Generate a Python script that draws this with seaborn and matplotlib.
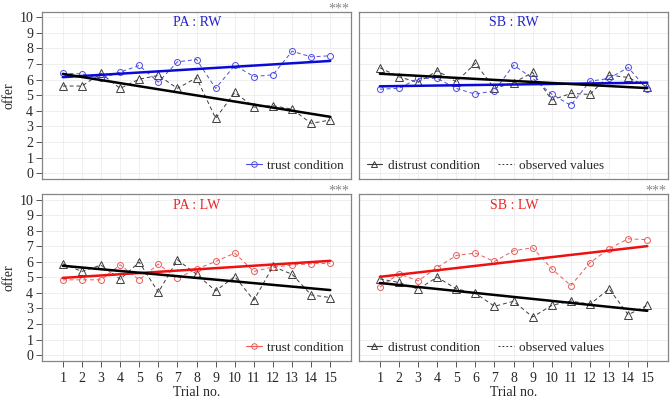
import numpy as np
import pandas as pd
import seaborn as sns
import matplotlib.pyplot as plt
from matplotlib.lines import Line2D

# values (mean offer per trial)
trials = list(range(1, 16))

pa_rw_trust = [6.40, 6.37, 6.08, 6.48, 6.91, 5.84, 7.14, 7.29, 5.44, 6.91, 6.20, 6.31, 7.82, 7.46, 7.53]
pa_rw_distrust = [5.59, 5.59, 6.40, 5.44, 6.03, 6.27, 5.44, 6.12, 3.52, 5.18, 4.24, 4.33, 4.11, 3.20, 3.41]
sb_rw_trust = [5.39, 5.44, 6.08, 6.08, 5.44, 5.07, 5.29, 6.93, 6.08, 5.07, 4.35, 5.90, 6.08, 6.78, 5.37]
sb_rw_distrust = [6.76, 6.18, 5.82, 6.57, 5.86, 7.04, 5.44, 5.80, 6.46, 4.69, 5.12, 5.05, 6.29, 6.14, 5.54]
pa_lw_trust = [4.84, 4.84, 4.84, 5.81, 4.84, 5.85, 4.95, 5.53, 6.02, 6.56, 5.38, 5.66, 5.79, 5.87, 5.91]
pa_lw_distrust = [5.87, 5.38, 5.79, 4.88, 5.98, 4.04, 6.13, 5.20, 4.13, 5.05, 3.53, 5.70, 5.20, 3.87, 3.70]
sb_lw_trust = [4.37, 5.23, 4.77, 5.63, 6.41, 6.56, 6.02, 6.71, 6.90, 5.55, 4.47, 5.94, 6.84, 7.48, 7.42]
sb_lw_distrust = [4.90, 4.67, 4.24, 5.01, 4.26, 3.98, 3.14, 3.46, 2.45, 3.20, 3.48, 3.27, 4.26, 2.60, 3.20]

panel_titles = ["PA : RW", "SB : RW", "PA : LW", "SB : LW"]
panel_stars = ["***", "", "***", "***"]
trust_series = [pa_rw_trust, sb_rw_trust, pa_lw_trust, sb_lw_trust]
distrust_series = [pa_rw_distrust, sb_rw_distrust, pa_lw_distrust, sb_lw_distrust]

sns.set_style("white")
plt.rcParams['font.family'] = ['Liberation Serif', 'DejaVu Serif']

BLUE = ("#0a0ad8", "#4c4ce0", "#2222cc")   # fit, observed, title
RED = ("#ee1111", "#ec5a5a", "#ee2222")
GREY = "#3c3c3c"
DASH = (0, (4, 3))

fig = plt.figure(figsize=(6.71, 4.0), dpi=100)
W = 0.4605
positions = [(0.063, 0.552, 0.419), (0.5355, 0.552, 0.419),
             (0.063, 0.0975, 0.4175), (0.5355, 0.0975, 0.4175)]

for i in range(4):
    x0, y0, h0 = positions[i]
    ax = fig.add_axes([x0, y0, W, h0])
    fit_c, obs_c, tit_c = BLUE if i < 2 else RED
    df = pd.DataFrame({"trial": trials,
                       "trust": trust_series[i],
                       "distrust": distrust_series[i]})

    ax.grid(True, color="#ededed", lw=0.6, zorder=0)
    ax.set_axisbelow(True)

    # observed values
    sns.lineplot(data=df, x="trial", y="distrust", ax=ax, color=GREY, lw=0.7,
                 linestyle=DASH, marker="^", markersize=5.5, markerfacecolor="none",
                 markeredgecolor=GREY, markeredgewidth=0.7)
    sns.lineplot(data=df, x="trial", y="trust", ax=ax, color=obs_c, lw=0.7,
                 linestyle=DASH, marker="o", markersize=4.3, markerfacecolor="none",
                 markeredgecolor=obs_c, markeredgewidth=0.7)
    # linear trends
    sns.regplot(data=df, x="trial", y="trust", ax=ax, ci=None, scatter=False,
                line_kws=dict(color=fit_c, lw=1.8))
    sns.regplot(data=df, x="trial", y="distrust", ax=ax, ci=None, scatter=False,
                line_kws=dict(color="black", lw=1.8))

    ax.set_xlim(-0.075, 16.1)
    ax.set_ylim(-0.38, 10.36)
    ax.set_xticks(trials)
    ax.set_yticks(range(11))
    for sp in ax.spines.values():
        sp.set_color("#858585")
        sp.set_linewidth(0.9)

    left = i in (0, 2)
    bottom = i in (2, 3)
    ax.tick_params(axis="y", left=left, labelleft=left, length=4.5, width=0.7,
                   color="#555555", labelsize=10, pad=2)
    ax.tick_params(axis="x", bottom=bottom, labelbottom=bottom, length=4.5, width=0.7,
                   color="#555555", labelsize=10, pad=3.5)
    ax.set_ylabel("offer" if left else "", fontsize=10, labelpad=3)
    ax.set_xlabel("Trial no." if bottom else "", fontsize=10, labelpad=1)

    ax.text(0.5, 0.932, panel_titles[i], transform=ax.transAxes, ha="center",
            va="center", color=tit_c, fontsize=10)
    if panel_stars[i]:
        ax.text(0.993, 1.017, panel_stars[i], transform=ax.transAxes, ha="right",
                va="center", color="#888888", fontsize=10)

    if left:
        h = [Line2D([], [], color=obs_c, lw=0.8, marker="o", markersize=4,
                    markerfacecolor="none", markeredgewidth=0.7)]
        ax.legend(h, ["trust condition"], loc="lower right", frameon=False,
                  fontsize=9.5, handlelength=1.2, handletextpad=0.4,
                  borderaxespad=0.25, borderpad=0.3)
    else:
        h = [Line2D([], [], color=GREY, lw=0.8, marker="^", markersize=4.5,
                    markerfacecolor="none", markeredgewidth=0.7),
             Line2D([], [], color=GREY, lw=0.7, linestyle=(0, (2, 2)))]
        ax.legend(h, ["distrust condition", "observed values"], loc="lower left",
                  ncol=2, frameon=False, fontsize=9.5, handlelength=1.2,
                  handletextpad=0.4, columnspacing=1.4, borderaxespad=0.25,
                  borderpad=0.3)

fig.savefig("out.png", dpi=100)
